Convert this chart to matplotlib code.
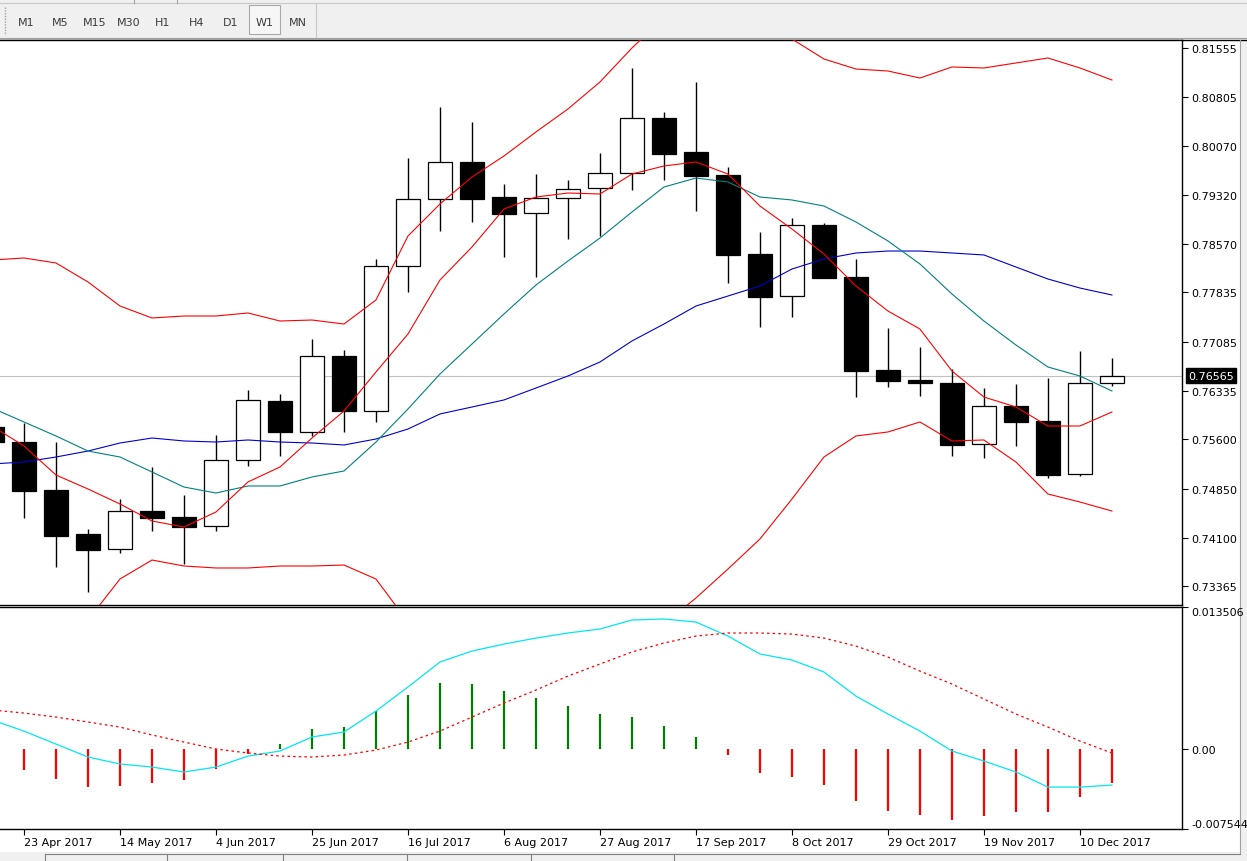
import numpy as np
import matplotlib
matplotlib.use("Agg")
import matplotlib.pyplot as plt
from matplotlib.patches import Rectangle

plt.rcParams['font.family'] = 'DejaVu Sans'
plt.rcParams['font.size'] = 8

# weekly bars (week start), AUDUSD-like W1 chart
weeks = ['16 Apr 2017', '23 Apr 2017', '30 Apr 2017', '7 May 2017', '14 May 2017', '21 May 2017',
         '28 May 2017', '4 Jun 2017', '11 Jun 2017', '18 Jun 2017', '25 Jun 2017', '2 Jul 2017',
         '9 Jul 2017', '16 Jul 2017', '23 Jul 2017', '30 Jul 2017', '6 Aug 2017', '13 Aug 2017',
         '20 Aug 2017', '27 Aug 2017', '3 Sep 2017', '10 Sep 2017', '17 Sep 2017', '24 Sep 2017',
         '1 Oct 2017', '8 Oct 2017', '15 Oct 2017', '22 Oct 2017', '29 Oct 2017', '5 Nov 2017',
         '12 Nov 2017', '19 Nov 2017', '26 Nov 2017', '3 Dec 2017', '10 Dec 2017', '17 Dec 2017']

opens = [0.75787, 0.75558, 0.74828, 0.74158, 0.73930, 0.74508, 0.74417, 0.74280, 0.75284, 0.76182,
         0.75711, 0.76867, 0.76030, 0.78237, 0.79257, 0.79820, 0.79287, 0.79044, 0.79272, 0.79424,
         0.79653, 0.80490, 0.79972, 0.79622, 0.78420, 0.77780, 0.78861, 0.78070, 0.76654, 0.76502,
         0.76456, 0.75528, 0.76106, 0.75878, 0.75071, 0.76456]
highs = [0.75878, 0.75848, 0.75558, 0.74234, 0.74691, 0.75178, 0.74752, 0.75665, 0.76350, 0.76289,
         0.77126, 0.76959, 0.78344, 0.79881, 0.80657, 0.80429, 0.79485, 0.79637, 0.79546, 0.79957,
         0.81251, 0.80581, 0.81038, 0.79744, 0.78755, 0.78968, 0.78892, 0.78344, 0.77293, 0.77004,
         0.76669, 0.76380, 0.76441, 0.76532, 0.76943, 0.76837]
lows = [0.75498, 0.74402, 0.73656, 0.73275, 0.73869, 0.74204, 0.73702, 0.74204, 0.75193, 0.75345,
        0.75650, 0.75711, 0.75863, 0.77841, 0.78770, 0.78907, 0.78374, 0.78070, 0.78648, 0.78694,
        0.79394, 0.79546, 0.79074, 0.77978, 0.77309, 0.77461, 0.78054, 0.76243, 0.76395, 0.76258,
        0.75345, 0.75315, 0.75498, 0.75010, 0.75041, 0.76411]
closes = [0.75558, 0.74813, 0.74128, 0.73915, 0.74508, 0.74402, 0.74265, 0.75284, 0.76198, 0.75711,
          0.76867, 0.76030, 0.78237, 0.79257, 0.79820, 0.79257, 0.79029, 0.79272, 0.79409, 0.79653,
          0.80490, 0.79942, 0.79607, 0.78405, 0.77765, 0.78861, 0.78054, 0.76639, 0.76487, 0.76456,
          0.75513, 0.76106, 0.75863, 0.75056, 0.76456, 0.76565]

# moving averages
ma_fast = [0.75802, 0.75498, 0.75056, 0.74843, 0.74615, 0.74356, 0.74265, 0.74493, 0.74950, 0.75178,
           0.75619, 0.76030, 0.76624, 0.77202, 0.78024, 0.78526, 0.79105, 0.79287, 0.79348, 0.79333,
           0.79637, 0.79759, 0.79820, 0.79637, 0.79150, 0.78800, 0.78420, 0.77933, 0.77552, 0.77278,
           0.76639, 0.76243, 0.76091, 0.75802, 0.75802, 0.76015]
ma_mid = [0.76076, 0.75863, 0.75650, 0.75421, 0.75330, 0.75102, 0.74873, 0.74782, 0.74889, 0.74889,
          0.75026, 0.75117, 0.75558, 0.76061, 0.76593, 0.77050, 0.77507, 0.77948, 0.78313, 0.78663,
          0.79059, 0.79439, 0.79576, 0.79516, 0.79287, 0.79242, 0.79150, 0.78907, 0.78618, 0.78268,
          0.77811, 0.77400, 0.77035, 0.76700, 0.76563, 0.76335]
# bollinger bands
bb_mid = [0.75224, 0.75254, 0.75330, 0.75421, 0.75543, 0.75619, 0.75574, 0.75558, 0.75589, 0.75558,
          0.75543, 0.75513, 0.75604, 0.75756, 0.75985, 0.76091, 0.76198, 0.76380, 0.76563, 0.76776,
          0.77096, 0.77354, 0.77628, 0.77780, 0.77933, 0.78191, 0.78344, 0.78435, 0.78465, 0.78465,
          0.78435, 0.78405, 0.78222, 0.78039, 0.77902, 0.77796]
bb_upper = [0.78328, 0.78359, 0.78283, 0.77994, 0.77628, 0.77446, 0.77476, 0.77476, 0.77522, 0.77400,
            0.77415, 0.77354, 0.77720, 0.78694, 0.79181, 0.79592, 0.79911, 0.80277, 0.80627, 0.81038,
            0.81555, 0.82020, 0.82173, 0.82036, 0.81783, 0.81692, 0.81388, 0.81235, 0.81205, 0.81098,
            0.81266, 0.81251, 0.81327, 0.81403, 0.81251, 0.81068]
bb_lower = [0.72119, 0.72149, 0.72377, 0.72849, 0.73473, 0.73762, 0.73671, 0.73641, 0.73641, 0.73671,
            0.73671, 0.73686, 0.73473, 0.72819, 0.72788, 0.72590, 0.72484, 0.72484, 0.72499, 0.72514,
            0.72636, 0.72788, 0.73184, 0.73625, 0.74082, 0.74691, 0.75330, 0.75650, 0.75711, 0.75863,
            0.75574, 0.75589, 0.75254, 0.74767, 0.74645, 0.74508]

# MACD-style oscillator
osc_hist = [-0.00165, -0.00192, -0.00278, -0.00354, -0.00344, -0.00316, -0.00287, -0.00183, -0.00044, 0.00051,
            0.00193, 0.00212, 0.00364, 0.00516, 0.00630, 0.00620, 0.00554, 0.00487, 0.00412, 0.00336,
            0.00307, 0.00222, 0.00118, -0.00053, -0.00224, -0.00262, -0.00338, -0.00489, -0.00584, -0.00622,
            -0.00669, -0.00632, -0.00594, -0.00594, -0.00451, -0.00319]
osc_main = [0.00279, 0.00174, 0.00051, -0.00072, -0.00138, -0.00167, -0.00214, -0.00167, -0.00063, -0.00015,
            0.00118, 0.00165, 0.00364, 0.00592, 0.00829, 0.00933, 0.00999, 0.01056, 0.01104, 0.01142,
            0.01227, 0.01237, 0.01208, 0.01075, 0.00905, 0.00848, 0.00734, 0.00506, 0.00336, 0.00174,
            -0.00015, -0.00110, -0.00214, -0.00357, -0.00357, -0.00338]
osc_signal = [0.00374, 0.00345, 0.00307, 0.00260, 0.00212, 0.00137, 0.00070, 0.00004, -0.00034, -0.00063,
              -0.00072, -0.00053, -0.00006, 0.00070, 0.00174, 0.00307, 0.00440, 0.00563, 0.00696, 0.00810,
              0.00924, 0.01009, 0.01075, 0.01104, 0.01104, 0.01094, 0.01056, 0.00980, 0.00876, 0.00743,
              0.00620, 0.00478, 0.00336, 0.00212, 0.00080, -0.00034]

price_ticks = [0.81555, 0.80805, 0.80070, 0.79320, 0.78570, 0.77835, 0.77085,
               0.76335, 0.75600, 0.74850, 0.74100, 0.73365]
osc_min, osc_max = -0.007544, 0.013506
date_labels = ['23 Apr 2017', '14 May 2017', '4 Jun 2017', '25 Jun 2017', '16 Jul 2017', '6 Aug 2017',
               '27 Aug 2017', '17 Sep 2017', '8 Oct 2017', '29 Oct 2017', '19 Nov 2017', '10 Dec 2017']
timeframes = ['M1', 'M5', 'M15', 'M30', 'H1', 'H4', 'D1', 'W1', 'MN']

W, H = 1247, 862
fig = plt.figure(figsize=(W / 100, H / 100), dpi=100, facecolor='white')


def axes_px(left, top, right, bottom):
    return fig.add_axes([left / W, 1 - bottom / H, (right - left) / W, (bottom - top) / H])


# window chrome (toolbar, borders, tab strip)
bg = axes_px(0, 0, W, H)
bg.set_xlim(0, W)
bg.set_ylim(H, 0)
bg.axis('off')
bg.add_patch(Rectangle((0, 0), W, 40, fc='#f0f0f0', ec='none'))
bg.plot([0, W], [4, 4], color='#c8c8c8', lw=0.8)
for sx in [134, 177]:
    bg.plot([sx, sx], [0, 4], color='#a0a0a0', lw=0.8)
bg.plot([5, 5], [8, 36], color='#a0a0a0', lw=1, ls=(0, (1, 1)))
bg.add_patch(Rectangle((249, 6), 31, 29, fc='#f7f7f7', ec='#a8a8a8', lw=0.8))
bg.plot([316, 316], [5, 38], color='#c8c8c8', lw=0.8)
for name, tx in zip(timeframes, [26, 60, 95, 129, 163, 197, 231, 265, 298]):
    bg.text(tx, 23, name, ha='center', va='center', color='#3c3c3c', fontsize=8)
bg.plot([0, W], [38.5, 38.5], color='#a0a0a0', lw=0.8)
bg.plot([0, W], [40.5, 40.5], color='black', lw=1)
bg.add_patch(Rectangle((1240, 41), 7, H - 41, fc='#f0f0f0', ec='none'))
bg.plot([1240, 1240], [41, 855], color='#a0a0a0', lw=0.8)
bg.add_patch(Rectangle((0, 853), W, 9, fc='#f0f0f0', ec='none'))
bg.plot([45, 1240], [855.5, 855.5], color='#808080', lw=0.8)
for sx in [45, 167, 283, 407, 531, 674]:
    bg.plot([sx, sx], [855, 862], color='#808080', lw=0.8)

x = np.arange(len(weeks))
o, h, l, c = map(np.array, (opens, highs, lows, closes))
x_view = (0.25, 37.19)

# price panel
ax = axes_px(0, 41, 1182, 606)
ax.set_facecolor('white')
ax.axhline(closes[-1], color='#c0c0c0', lw=0.8, zorder=1)
ax.vlines(x, l, h, color='black', lw=1, zorder=2)
bull = c >= o
ax.bar(x, np.abs(c - o), bottom=np.minimum(o, c), width=0.75,
       color=np.where(bull, 'white', 'black'), edgecolor='black', lw=0.9, zorder=3)
ax.plot(x, bb_upper, color='#ff0000', lw=0.8, zorder=4)
ax.plot(x, bb_lower, color='#ff0000', lw=0.8, zorder=4)
ax.plot(x, bb_mid, color='#0000cd', lw=0.8, zorder=4)
ax.plot(x, ma_mid, color='#008080', lw=0.8, zorder=4)
ax.plot(x, ma_fast, color='#ff0000', lw=0.8, zorder=4)
ax.set_xlim(*x_view)
ax.set_ylim(0.730775, 0.816768)
ax.yaxis.tick_right()
ax.set_yticks(price_ticks)
ax.set_yticklabels([f'{v:.5f}' for v in price_ticks])
ax.tick_params(axis='y', direction='out', length=4, width=0.8, pad=3, labelsize=8, colors='black')
ax.tick_params(axis='x', bottom=False, labelbottom=False)
ax.spines['left'].set_visible(False)
for s in ['top', 'right', 'bottom']:
    ax.spines[s].set_linewidth(1)
ax.annotate(f'{closes[-1]:.5f}', xy=(1, closes[-1]), xycoords=('axes fraction', 'data'),
            xytext=(4.5, 0), textcoords='offset points', ha='left', va='center',
            color='white', fontsize=8, annotation_clip=False,
            bbox=dict(boxstyle='square,pad=0.22', fc='black', ec='black'))

# oscillator panel
ax2 = axes_px(0, 608, 1182, 830)
ax2.set_facecolor('white')
hist = np.array(osc_hist)
ax2.vlines(x, 0, hist, colors=np.where(hist >= 0, '#008000', '#ff0000'), lw=1.6, zorder=2)
ax2.plot(x, osc_main, color='#00e8f0', lw=0.9, zorder=3)
ax2.plot(x, osc_signal, color='#ff0000', lw=0.9, ls=(0, (2, 2.5)), zorder=3)
ax2.set_xlim(*x_view)
ax2.set_ylim(osc_min, osc_max)
ax2.yaxis.tick_right()
ax2.set_yticks([osc_max, 0, osc_min])
ax2.set_yticklabels([f'{osc_max:.6f}', '0.00', f'{osc_min:.6f}'])
ax2.tick_params(axis='y', direction='out', length=4, width=0.8, pad=3, labelsize=8)
lbls = ax2.get_yticklabels()
lbls[0].set_va('top')
lbls[2].set_va('bottom')
ax2.set_xticks([weeks.index(d) for d in date_labels])
ax2.set_xticklabels(date_labels, ha='left')
ax2.tick_params(axis='x', direction='out', length=4, width=0.8, pad=2, labelsize=8)
ax2.spines['left'].set_visible(False)
for s in ['top', 'right', 'bottom']:
    ax2.spines[s].set_linewidth(1)

fig.savefig('out.png', dpi=100, facecolor='white')
